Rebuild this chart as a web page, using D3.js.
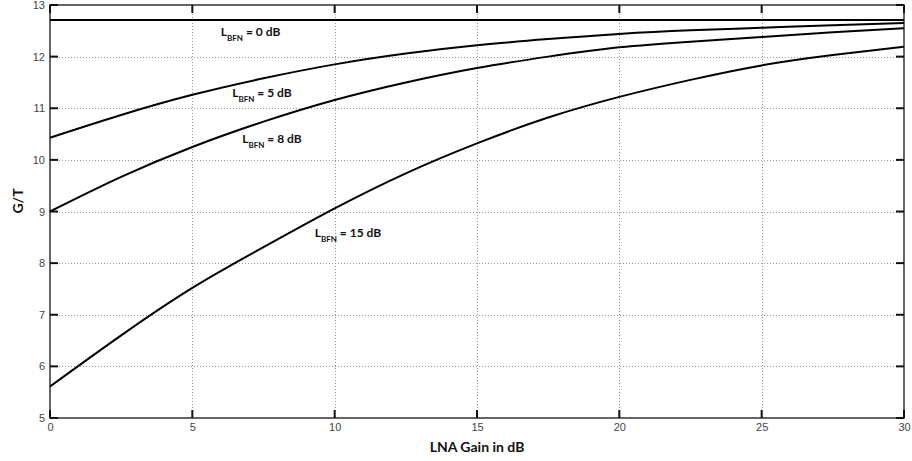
<!DOCTYPE html>
<html>
<head>
<meta charset="utf-8">
<script src="https://cdn.jsdelivr.net/npm/d3@7"></script>
<style>
  body { margin: 0; background: #fff; }
  svg { display: block; }
  .tick-label { font-family: "Liberation Sans", Arial, sans-serif; font-size: 11px; fill: #444; }
  .axis-title { font-family: "Lato", "DejaVu Sans", sans-serif; font-weight: bold; font-size: 14px; fill: #111; }
  .note { font-family: "Lato", "DejaVu Sans", sans-serif; font-weight: bold; font-size: 12px; fill: #111; }
</style>
</head>
<body>
<div id="chart"></div>
<script>
// LNA gain (dB) sample points
const gain = [0, 2.5, 5, 7.5, 10, 12.5, 15, 17.5, 20, 22.5, 25, 27.5, 30];
// G/T, one list per beam-forming-network loss
const gt0 = [12.71, 12.71, 12.71, 12.71, 12.71, 12.71, 12.71, 12.71, 12.71, 12.71, 12.71, 12.71, 12.71];
const gt5 = [10.43, 10.87, 11.26, 11.58, 11.85, 12.06, 12.22, 12.34, 12.44, 12.51, 12.56, 12.61, 12.65];
const gt8 = [9.0, 9.67, 10.25, 10.74, 11.16, 11.5, 11.78, 12.0, 12.18, 12.29, 12.38, 12.47, 12.55];
const gt15 = [5.61, 6.6, 7.52, 8.31, 9.06, 9.74, 10.32, 10.82, 11.22, 11.55, 11.83, 12.03, 12.19];

const xTicks = [0, 5, 10, 15, 20, 25, 30];
const yTicks = [5, 6, 7, 8, 9, 10, 11, 12, 13];

const series = [
  { name: '0 dB', values: gt0, label: [6.0, 12.4] },
  { name: '5 dB', values: gt5, label: [6.4, 11.22] },
  { name: '8 dB', values: gt8, label: [6.75, 10.33] },
  { name: '15 dB', values: gt15, label: [9.3, 8.51] }
];

const width = 912, height = 461;
const margin = { top: 5, right: 8, bottom: 43, left: 50 };

const svg = d3.select('#chart').append('svg')
  .attr('width', width)
  .attr('height', height);

const x = d3.scaleLinear().domain([0, 30]).range([margin.left, width - margin.right]);
const y = d3.scaleLinear().domain([5, 13]).range([height - margin.bottom, margin.top]);

// dotted grid
const grid = svg.append('g').attr('class', 'grid')
  .attr('stroke', '#999')
  .attr('stroke-width', 1)
  .attr('stroke-dasharray', '1,2');
grid.selectAll('.gx').data(xTicks.slice(1, -1)).join('line')
  .attr('x1', d => Math.round(x(d)) + 0.5).attr('x2', d => Math.round(x(d)) + 0.5)
  .attr('y1', y(13)).attr('y2', y(5));
grid.selectAll('.gy').data(yTicks.slice(1, -1)).join('line')
  .attr('y1', d => Math.round(y(d)) + 0.5).attr('y2', d => Math.round(y(d)) + 0.5)
  .attr('x1', x(0)).attr('x2', x(30));

// frame
svg.append('rect')
  .attr('x', x(0)).attr('y', y(13))
  .attr('width', x(30) - x(0)).attr('height', y(5) - y(13))
  .attr('fill', 'none').attr('stroke', '#333').attr('stroke-width', 1.5);

// tick labels from the axis generators, tick marks drawn inward by hand
const tickLen = 8;
const xBottom = d3.axisBottom(x).tickValues(xTicks).tickSize(0).tickPadding(5);
const yLeft = d3.axisLeft(y).tickValues(yTicks).tickSize(0).tickPadding(5);

function styleAxis(g) {
  g.select('.domain').remove();
  g.selectAll('.tick line').remove();
  g.selectAll('.tick text').attr('class', 'tick-label').attr('fill', null);
}
svg.append('g').attr('transform', `translate(0,${y(5)})`).call(xBottom).call(styleAxis);
svg.append('g').attr('transform', `translate(${x(0)},0)`).call(yLeft).call(styleAxis);

const marks = svg.append('g').attr('stroke', '#111').attr('stroke-width', 2);
[[y(5), -1], [y(13), 1]].forEach(([y0, dir]) => {
  marks.selectAll(null).data(xTicks).join('line')
    .attr('x1', d => x(d)).attr('x2', d => x(d))
    .attr('y1', y0).attr('y2', y0 + dir * tickLen);
});
[[x(0), 1], [x(30), -1]].forEach(([x0, dir]) => {
  marks.selectAll(null).data(yTicks).join('line')
    .attr('y1', d => y(d)).attr('y2', d => y(d))
    .attr('x1', x0).attr('x2', x0 + dir * tickLen);
});

// curves
const line = d3.line()
  .x((d, i) => x(gain[i]))
  .y(d => y(d))
  .curve(d3.curveNatural);

svg.append('g').selectAll('path').data(series).join('path')
  .attr('d', d => line(d.values))
  .attr('fill', 'none')
  .attr('stroke', '#000')
  .attr('stroke-width', 2);

// curve labels: L with subscript BFN
const notes = svg.append('g').selectAll('text').data(series).join('text')
  .attr('class', 'note')
  .attr('x', d => x(d.label[0]))
  .attr('y', d => y(d.label[1]));
notes.append('tspan').text('L');
notes.append('tspan').attr('dy', 5).attr('font-size', 8).text('BFN');
notes.append('tspan').attr('dy', -5).text(d => ' = ' + d.name);

// axis titles
svg.append('text').attr('class', 'axis-title')
  .attr('x', (x(0) + x(30)) / 2)
  .attr('y', 452)
  .attr('text-anchor', 'middle')
  .text('LNA Gain in dB');

svg.append('text').attr('class', 'axis-title')
  .attr('transform', `translate(23,201) rotate(-90)`)
  .attr('text-anchor', 'middle')
  .text('G/T');
</script>
</body>
</html>
